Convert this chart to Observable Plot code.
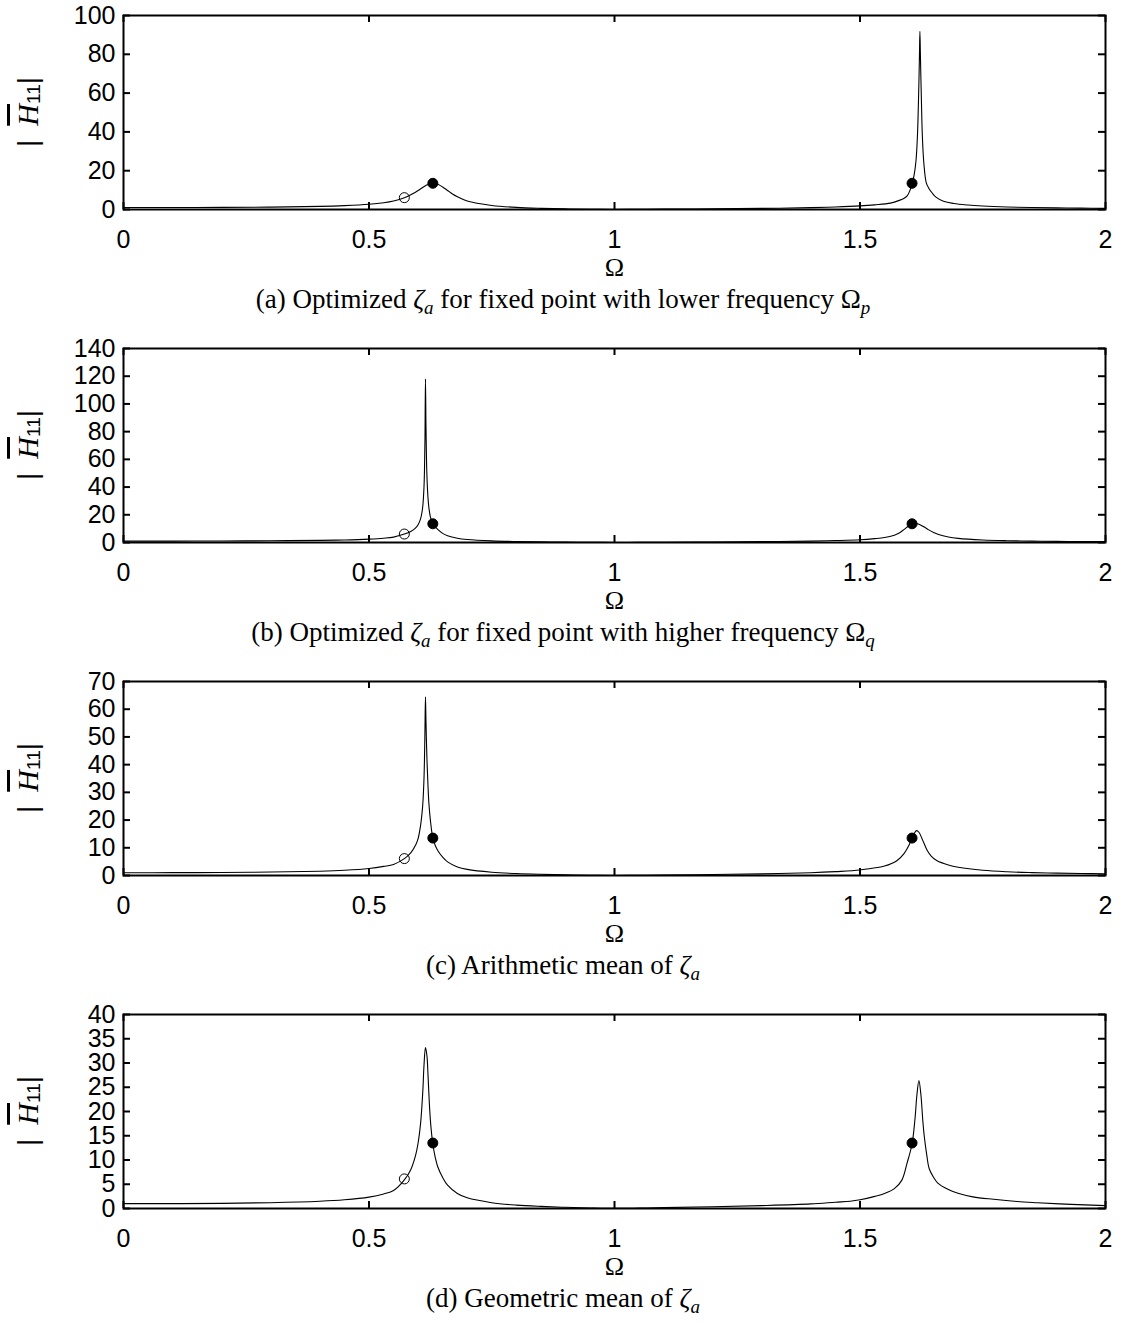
<!DOCTYPE html>
<html>
<head>
<meta charset="utf-8">
<style>
  html, body { margin: 0; padding: 0; background: #fff; }
  #chart svg { display: block; }
</style>
<script src="https://cdn.jsdelivr.net/npm/d3@7"></script>
<script src="https://cdn.jsdelivr.net/npm/@observablehq/plot@0.6"></script>
</head>
<body>
<div id="chart"></div>
<script>
// ---------- data ----------
const omegaTicks = [0, 0.5, 1, 1.5, 2];
const yTicksA = [0, 20, 40, 60, 80, 100];
const yTicksB = [0, 20, 40, 60, 80, 100, 120, 140];
const yTicksC = [0, 10, 20, 30, 40, 50, 60, 70];
const yTicksD = [0, 5, 10, 15, 20, 25, 30, 35, 40];

// (a) optimized zeta_a for lower fixed point
const omegaA = [0,0.1,0.2,0.3,0.4,0.45,0.5,0.53,0.55,0.572,0.59,0.6,0.61,0.62,0.63,0.64,0.65,0.66,0.67,0.68,0.7,0.72,0.75,0.8,0.85,0.9,0.95,1.0,1.05,1.1,1.2,1.3,1.4,1.45,1.5,1.53,1.562,1.58,1.59,1.596,1.602,1.606,1.61,1.614,1.617,1.619,1.621,1.622,1.623,1.625,1.627,1.63,1.635,1.64,1.647,1.654,1.67,1.691,1.72,1.75,1.8,1.85,1.9,1.95,2.0];
const magA   = [1.0,1.02,1.09,1.24,1.6,2.0,2.7,3.5,4.4,6.1,8.3,9.8,11.5,12.9,13.5,13.0,11.6,9.8,8.0,6.6,4.4,3.2,2.1,1.1,0.6,0.3,0.12,0.03,0.08,0.18,0.35,0.57,0.95,1.3,1.85,2.4,3.3,4.7,5.8,7.0,10.0,13.5,17.5,25,38,55,78,91.8,80,57,38,24,13.7,11.0,8.5,6.5,4.3,3.1,2.3,1.8,1.3,1.0,0.82,0.7,0.6];

// (b) optimized zeta_a for higher fixed point
const omegaB = [0,0.1,0.2,0.3,0.4,0.45,0.5,0.53,0.55,0.572,0.585,0.595,0.6,0.605,0.608,0.61,0.612,0.613,0.614,0.615,0.616,0.617,0.618,0.62,0.622,0.625,0.63,0.64,0.65,0.66,0.68,0.7,0.75,0.8,0.85,0.9,0.95,1.0,1.05,1.1,1.2,1.3,1.4,1.45,1.5,1.53,1.55,1.57,1.58,1.59,1.6,1.606,1.612,1.62,1.63,1.64,1.65,1.66,1.68,1.7,1.75,1.8,1.85,1.9,1.95,2.0];
const magB   = [1.0,1.02,1.09,1.23,1.55,1.85,2.45,3.1,3.9,6.1,8.0,10.6,12.8,17.0,22,28,40,52,75,118,85,62,48,33,25,18.5,13.5,9.4,6.6,4.9,3.1,2.2,1.18,0.7,0.43,0.25,0.11,0.02,0.08,0.18,0.36,0.6,1.0,1.4,2.0,2.8,3.6,5.3,6.8,9.5,12.3,13.5,13.8,13.2,11.3,9.1,7.3,5.8,4.0,3.0,1.85,1.3,1.0,0.82,0.7,0.6];

// (c) arithmetic mean of zeta_a
const omegaC = [0,0.1,0.2,0.3,0.4,0.45,0.5,0.53,0.55,0.572,0.585,0.595,0.6,0.605,0.608,0.61,0.612,0.613,0.614,0.615,0.616,0.618,0.62,0.622,0.625,0.63,0.635,0.64,0.65,0.66,0.68,0.7,0.75,0.8,0.85,0.9,0.95,1.0,1.05,1.1,1.2,1.3,1.4,1.45,1.5,1.55,1.575,1.59,1.6,1.606,1.61,1.615,1.62,1.627,1.637,1.645,1.657,1.68,1.7,1.75,1.8,1.85,1.9,1.95,2.0];
const magC   = [1.0,1.02,1.09,1.24,1.56,1.9,2.55,3.3,4.0,6.1,8.2,11.0,13.3,18.0,22.5,27,35,42,53,64.5,56,42,33,26,20,13.5,10.8,9.0,6.6,4.9,3.1,2.2,1.18,0.7,0.43,0.25,0.11,0.02,0.08,0.18,0.36,0.6,1.0,1.4,2.0,3.4,5.3,8.0,11.0,13.5,15.0,16.2,15.6,13.0,9.0,7.0,5.3,3.8,3.0,1.9,1.35,1.05,0.85,0.72,0.6];

// (d) geometric mean of zeta_a
const omegaD = [0,0.1,0.2,0.3,0.4,0.45,0.5,0.53,0.55,0.572,0.585,0.595,0.6,0.605,0.608,0.61,0.612,0.615,0.618,0.62,0.623,0.626,0.63,0.635,0.64,0.65,0.66,0.68,0.7,0.75,0.8,0.85,0.9,0.95,1.0,1.05,1.1,1.2,1.3,1.4,1.45,1.48,1.5,1.53,1.55,1.57,1.585,1.596,1.606,1.612,1.616,1.62,1.624,1.628,1.631,1.636,1.641,1.65,1.658,1.68,1.698,1.73,1.772,1.82,1.861,1.93,2.0];
const magD   = [1.0,1.0,1.06,1.2,1.5,1.8,2.35,3.0,3.7,5.9,8.0,11.0,13.5,17.5,21.5,25,29.5,33.2,31.5,28,21.5,17.0,13.3,10.5,8.6,6.4,4.8,3.1,2.2,1.2,0.7,0.43,0.25,0.11,0.02,0.08,0.18,0.36,0.6,0.95,1.3,1.5,1.8,2.5,3.1,4.1,5.8,9.4,13.3,18.5,23.5,26.4,23.5,18.0,14.8,11.0,8.2,6.4,5.3,3.9,3.2,2.4,1.9,1.45,1.2,0.85,0.6];

// fixed points (open = not filled)
const fixedOmega  = [0.572, 0.630, 1.606];
const fixedMag    = [6.1, 13.5, 13.5];
const fixedFilled = [false, true, true];

const captionLetters = ["a", "b", "c", "d"];
const captionBefore  = ["Optimized ", "Optimized ", "Arithmetic mean of ", "Geometric mean of "];
const captionAfter   = [" for fixed point with lower frequency \u03A9", " for fixed point with higher frequency \u03A9", "", ""];
const captionSub     = ["p", "q", "", ""];

// ---------- drawing ----------
const panels = [
  {omega: omegaA, mag: magA, yTicks: yTicksA},
  {omega: omegaB, mag: magB, yTicks: yTicksB},
  {omega: omegaC, mag: magC, yTicks: yTicksC},
  {omega: omegaD, mag: magD, yTicks: yTicksD}
];
const heights = [333, 333, 333, 326];
const W = 1126, mL = 123, mR = 21, mT = 15, plotH = 194;
const plotW = W - mL - mR;
const tickLen = 7;
const sans = "'Liberation Sans', Arial, Helvetica, sans-serif";
const serif = "'Liberation Serif', 'Times New Roman', Times, serif";

const fixed = fixedOmega.map((o, i) => ({o, h: fixedMag[i], filled: fixedFilled[i]}));

panels.forEach((p, i) => {
  const H = heights[i];
  const data = p.omega.map((o, j) => ({o, h: p.mag[j]}));
  const yMax = p.yTicks[p.yTicks.length - 1];
  const chart = Plot.plot({
    width: W, height: H,
    marginLeft: mL, marginRight: mR, marginTop: mT, marginBottom: H - mT - plotH,
    x: {domain: [0, 2], label: null},
    y: {domain: [0, yMax], label: null},
    style: {fontFamily: sans, fontSize: "25px", color: "black", background: "white", overflow: "visible"},
    marks: [
      Plot.line(data, {x: "o", y: "h", stroke: "black", strokeWidth: 1.1, curve: "catmull-rom"}),
      Plot.tickX(omegaTicks, {x: d => d, insetTop: plotH - tickLen, stroke: "black", strokeWidth: 2}),
      Plot.tickX(omegaTicks, {x: d => d, insetBottom: plotH - tickLen, stroke: "black", strokeWidth: 2}),
      Plot.tickY(p.yTicks, {y: d => d, insetRight: plotW - tickLen, stroke: "black", strokeWidth: 2}),
      Plot.tickY(p.yTicks, {y: d => d, insetLeft: plotW - tickLen, stroke: "black", strokeWidth: 2}),
      Plot.frame({stroke: "black", strokeWidth: 2}),
      Plot.dot(fixed, {x: "o", y: "h", r: 5, fill: d => d.filled ? "black" : "none", stroke: "black", strokeWidth: 1}),
      Plot.axisX(omegaTicks, {tickSize: 0, tickPadding: 21, tickFormat: d => String(d), label: null}),
      Plot.axisY(p.yTicks, {tickSize: 0, tickPadding: 8, tickFormat: d => String(d), label: null}),
      Plot.text([1], {x: d => d, frameAnchor: "bottom", dy: 58, text: () => "\u03A9",
        fontFamily: serif, fontSize: 26, lineAnchor: "middle"})
    ]
  });

  const svg = d3.select(chart);

  // y-axis label |H̄11|
  const yl = svg.append("text")
    .attr("transform", `translate(27,${mT + plotH / 2}) rotate(-90)`)
    .attr("text-anchor", "middle")
    .attr("dominant-baseline", "central")
    .attr("fill", "black")
    .style("font-family", sans)
    .style("font-size", "28px");
  yl.append("tspan").text("|\u2002");
  yl.append("tspan").style("font-family", serif).style("font-style", "italic")
    .style("text-decoration", "overline").style("font-size", "30px").text("H");
  yl.append("tspan").attr("dy", 6).style("font-size", "19px").text("11");
  yl.append("tspan").attr("dy", -6).text("|");

  // caption
  const cap = svg.append("text")
    .attr("x", W / 2).attr("y", 308)
    .attr("text-anchor", "middle")
    .attr("fill", "black")
    .style("font-family", serif)
    .style("font-size", "27px");
  cap.append("tspan").text(`(${captionLetters[i]}) ${captionBefore[i]}`);
  cap.append("tspan").style("font-style", "italic").text("\u03B6");
  cap.append("tspan").attr("dy", 6).style("font-style", "italic").style("font-size", "19px").text("a");
  if (captionAfter[i]) {
    cap.append("tspan").attr("dy", -6).text(captionAfter[i]);
    cap.append("tspan").attr("dy", 6).style("font-style", "italic").style("font-size", "19px").text(captionSub[i]);
  }

  document.getElementById("chart").appendChild(chart);
});
</script>
</body>
</html>
